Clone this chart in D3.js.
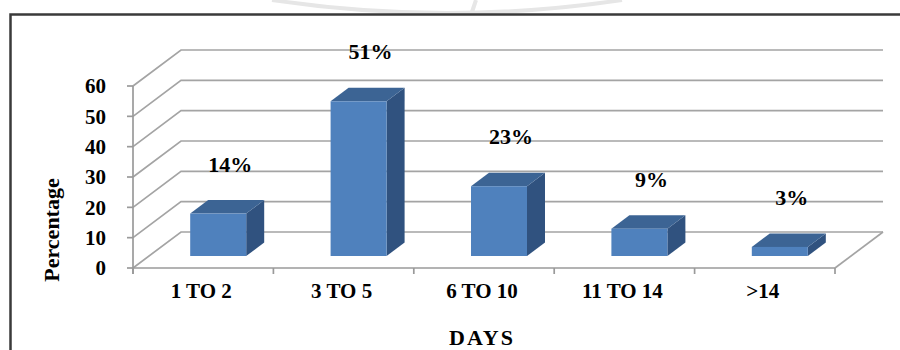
<!DOCTYPE html>
<html>
<head>
<meta charset="utf-8">
<script src="https://cdn.jsdelivr.net/npm/d3@7"></script>
<style>
  body { margin: 0; background: #fff; }
  svg { display: block; }
  text { font-family: "Liberation Serif", "Times New Roman", serif; font-weight: bold; fill: #000; }
</style>
</head>
<body>
<script>
const categories = ["1 TO 2", "3 TO 5", "6 TO 10", "11 TO 14", ">14"];
const values = [14, 51, 23, 9, 3];
const labels = ["14%", "51%", "23%", "9%", "3%"];
const yTicks = [0, 10, 20, 30, 40, 50, 60];

const W = 900, H = 350;
const plot = {left: 133, right: 835, top: 86, bottom: 268};
const depth = {dx: 48, dy: -36};       // back wall offset
const barOff = {dx: 15, dy: -12};      // bar front offset into depth
const barDepth = {dx: 18, dy: -13.5};
const barW = 56;

const svg = d3.select("body").append("svg")
    .attr("width", W).attr("height", H);

// faint watermark at the top
const wm = svg.append("g").attr("fill", "none").attr("stroke", "#e6e6e6").attr("stroke-width", 4);
wm.append("path").attr("d", "M272,0 Q447,26 622,0");
wm.append("path").attr("d", "M476,0 L472,12");

// outer frame
svg.append("rect")
    .attr("x", 10.5).attr("y", 14.5).attr("width", W).attr("height", H)
    .attr("fill", "none").attr("stroke", "#3a3a3a").attr("stroke-width", 2.5);

const x = d3.scaleBand().domain(categories).range([plot.left, plot.right]);
const y = d3.scaleLinear().domain([0, 60]).range([plot.bottom, plot.top]);

const grid = svg.append("g")
    .attr("stroke", "#a4a4a4").attr("stroke-width", 1.7).attr("fill", "none");

// gridlines: diagonal on side wall + back wall line
yTicks.forEach(t => {
  const yy = y(t);
  grid.append("path")
    .attr("d", "M" + plot.left + "," + yy
      + "L" + (plot.left + depth.dx) + "," + (yy + depth.dy)
      + "L" + (plot.right + depth.dx) + "," + (yy + depth.dy));
});
// floor right edge
grid.append("path")
  .attr("d", "M" + plot.right + "," + y(0) + "L" + (plot.right + depth.dx) + "," + (y(0) + depth.dy));

// axes lines
const axis = svg.append("g").attr("stroke", "#9a9a9a").attr("stroke-width", 1.7).attr("fill", "none");
axis.append("line").attr("x1", plot.left).attr("x2", plot.left).attr("y1", y(60)).attr("y2", y(0) + 6);
axis.append("line").attr("x1", plot.left).attr("x2", plot.right).attr("y1", y(0)).attr("y2", y(0));
yTicks.forEach(t => {
  axis.append("line").attr("x1", plot.left - 6).attr("x2", plot.left).attr("y1", y(t)).attr("y2", y(t));
});
const bounds = categories.map(c => x(c)).concat([plot.right]);
bounds.forEach(b => {
  axis.append("line").attr("x1", b).attr("x2", b).attr("y1", y(0)).attr("y2", y(0) + 6);
});

// y tick labels
svg.append("g").selectAll("text")
  .data(yTicks).enter().append("text")
  .attr("x", 106).attr("y", d => y(d))
  .attr("dy", "0.35em")
  .attr("text-anchor", "end")
  .style("font-size", "21px")
  .text(d => d);

// bars
const bars = svg.append("g").selectAll("g")
  .data(categories).enter().append("g");

bars.each(function(c, i) {
  const g = d3.select(this);
  const x0 = x(c) + x.bandwidth() / 2 + barOff.dx - barW / 2;
  const x1 = x0 + barW;
  const yb = y(0) + barOff.dy;
  const yt = y(values[i]) + barOff.dy;
  const ddx = barDepth.dx, ddy = barDepth.dy;
  // side face
  g.append("path")
    .attr("d", "M" + x1 + "," + yb + "L" + (x1 + ddx) + "," + (yb + ddy)
      + "L" + (x1 + ddx) + "," + (yt + ddy) + "L" + x1 + "," + yt + "Z")
    .attr("fill", "#30527f");
  // top face
  g.append("path")
    .attr("d", "M" + x0 + "," + yt + "L" + (x0 + ddx) + "," + (yt + ddy)
      + "L" + (x1 + ddx) + "," + (yt + ddy) + "L" + x1 + "," + yt + "Z")
    .attr("fill", "#3c6494");
  // front face
  g.append("rect")
    .attr("x", x0).attr("y", yt).attr("width", barW).attr("height", yb - yt)
    .attr("fill", "#4f81bd");
});

// data labels
svg.append("g").selectAll("text")
  .data(categories).enter().append("text")
  .attr("x", c => x(c) + x.bandwidth() / 2 + 27)
  .attr("y", (c, i) => y(values[i]) + barOff.dy - 42)
  .attr("text-anchor", "middle")
  .style("font-size", "22px")
  .text((c, i) => labels[i]);

// category labels
svg.append("g").selectAll("text")
  .data(categories).enter().append("text")
  .attr("x", c => x(c) + x.bandwidth() / 2 - 2)
  .attr("y", 298)
  .attr("text-anchor", "middle")
  .style("font-size", "21px")
  .text(c => c);

// axis titles
svg.append("text")
  .attr("x", (plot.left + plot.right) / 2 - 2).attr("y", 345)
  .attr("text-anchor", "middle")
  .style("font-size", "22px")
  .style("letter-spacing", "2px")
  .text("DAYS");

svg.append("text")
  .attr("transform", "translate(59,230) rotate(-90)")
  .attr("text-anchor", "middle")
  .style("font-size", "22px")
  .text("Percentage");
</script>
</body>
</html>
